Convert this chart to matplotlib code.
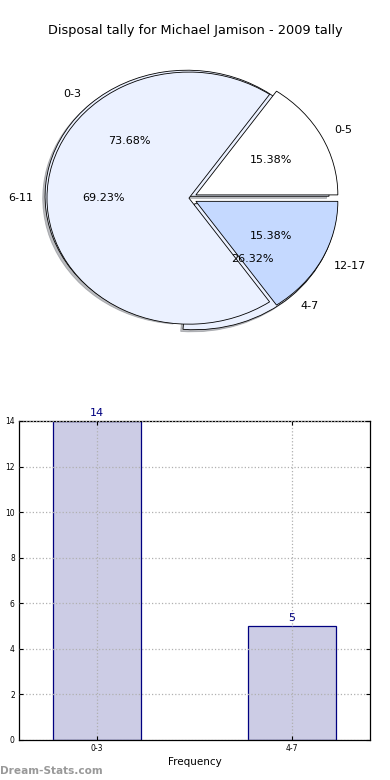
import matplotlib
matplotlib.use("Agg")
import matplotlib.pyplot as plt

# ------------------------------------------------------------
# Data
# ------------------------------------------------------------

title = "Disposal tally for Michael Jamison - 2009 tally"

# first pie (bar chart bins)
bins_a = ["0-3", "4-7"]
tally_a = [14, 5]

# second pie
bins_b = ["0-5", "6-11", "12-17"]
tally_b = [2, 9, 2]

LIGHT = "#EBF1FF"
MID = "#C5D9FF"

# ------------------------------------------------------------
# Figure
# ------------------------------------------------------------

fig = plt.figure(figsize=(3.9, 7.8), dpi=100)
fig.text(0.5, 0.961, title, ha="center", va="center", fontsize=9.3)

# Pie panel
ax1 = fig.add_axes([0.0295, 0.544, 0.910, 0.404])
ax1.pie(tally_a, labels=bins_a, autopct="%.2f%%", colors=[LIGHT, LIGHT],
        explode=(0.02, 0.06), shadow={"ox": -0.012, "oy": -0.012, "shade": 0.5},
        wedgeprops={"edgecolor": "black", "linewidth": 0.6},
        textprops={"fontsize": 8})
ax1.pie(tally_b, labels=bins_b, autopct="%.2f%%", colors=["white", LIGHT, MID],
        explode=(0.055, 0, 0.055),
        wedgeprops={"edgecolor": "black", "linewidth": 0.6},
        textprops={"fontsize": 8})
ax1.set_aspect("auto")
ax1.set_xlim(-1.25, 1.25)
ax1.set_ylim(-1.25, 1.25)

# Bar panel
ax2 = fig.add_axes([0.0487, 0.0513, 0.9, 0.409])
xpos = range(len(bins_a))
ax2.bar(xpos, tally_a, width=0.45, color="#CCCCE5", edgecolor="navy", linewidth=0.9)
for x, v in zip(xpos, tally_a):
    ax2.text(x, v + 0.15, str(v), ha="center", va="bottom", color="navy", fontsize=8)

ax2.set_xlim(-0.4, 1.4)
ax2.set_ylim(0, 14)
ax2.set_yticks(range(0, 15, 2))
ax2.set_xticks(list(xpos))
ax2.set_xticklabels(bins_a)
ax2.tick_params(direction="in", top=True, right=True, labelsize=5.5, length=3, pad=3)
ax2.grid(True, linestyle=":", color="#b0b0b0", linewidth=0.9)
ax2.set_axisbelow(False)
for s in ax2.spines.values():
    s.set_linewidth(0.9)
ax2.set_xlabel("Frequency", fontsize=7.5, labelpad=3)
ax2.set_ylabel("Disposal Tally", fontsize=7.5, labelpad=3)

fig.text(0.0, 0.012, "Dream-Stats.com", fontsize=7.6, color="#999999",
         fontweight="bold", ha="left", va="center")

fig.savefig("out.png", dpi=100)
